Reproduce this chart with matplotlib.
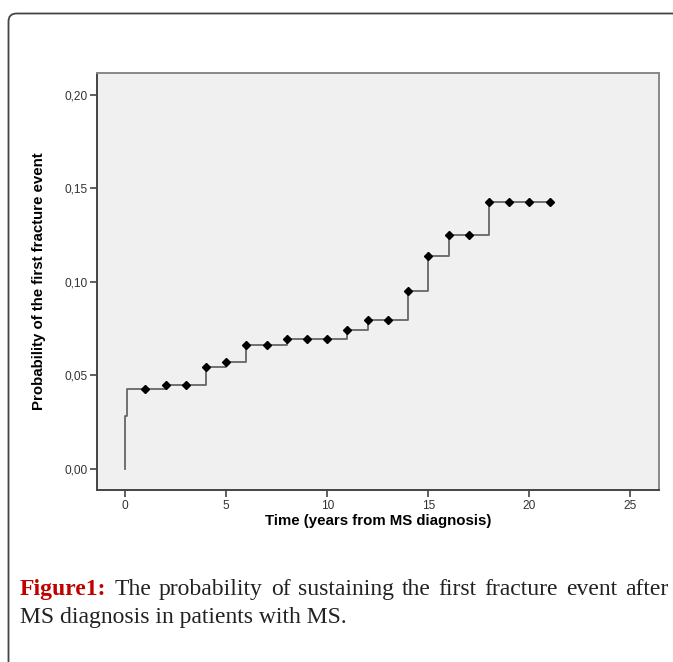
import numpy as np
import matplotlib.pyplot as plt
from matplotlib.patches import FancyBboxPatch
from matplotlib.ticker import MultipleLocator, FuncFormatter

# cumulative probability of first fracture (step function, post)
step_times = [0, 0, 0.1, 2, 4, 5, 6, 8, 11, 12, 14, 15, 16, 18, 21]
step_probs = [0, 0.0283, 0.0427, 0.0449, 0.0547, 0.0573, 0.0661, 0.0694,
              0.0743, 0.0797, 0.0951, 0.1138, 0.1248, 0.1425, 0.1425]
censor_times = [1, 2, 3, 4, 5, 6, 7, 8, 9, 10, 11, 12, 13, 14, 15, 16, 17, 18, 19, 20, 21]

caption_bold = "Figure1:"
caption_line1 = "The probability of sustaining the first fracture event after"
caption_line2 = "MS diagnosis in patients with MS."

W, H = 673, 662
fig = plt.figure(figsize=(W / 100, H / 100), dpi=100)
fig.patch.set_facecolor('white')

# rounded frame around the figure block
frame = FancyBboxPatch((8.5 / W, -0.2), 1.2, 1 - 13.5 / H + 0.2,
                       boxstyle="round,pad=0,rounding_size=0.012",
                       transform=fig.transFigure, fill=False,
                       edgecolor='#444444', linewidth=1.3, clip_on=False)
fig.patches.append(frame)

ax = fig.add_axes([97 / W, 1 - 490 / H, 562 / W, 417 / H])
ax.set_facecolor('#f0f0f0')

ax.step(step_times, step_probs, where='post', color='#666666', linewidth=1.3, zorder=2)
idx = np.searchsorted(step_times, censor_times, side='right') - 1
censor_probs = np.array(step_probs)[idx]
ax.plot(censor_times, censor_probs, linestyle='none', marker='D', markersize=4.4,
        color='black', zorder=3)

ax.set_xlim(-1.4, 26.42)
ax.set_ylim(-0.0112, 0.2115)
ax.xaxis.set_major_locator(MultipleLocator(5))
ax.yaxis.set_major_locator(MultipleLocator(0.05))
ax.yaxis.set_major_formatter(FuncFormatter(lambda v, p: f"{v:.2f}".replace('.', ',')))

for side in ['left', 'bottom']:
    ax.spines[side].set_color('#444444')
    ax.spines[side].set_linewidth(1.4)
for side in ['top', 'right']:
    ax.spines[side].set_color('#888888')
    ax.spines[side].set_linewidth(1.4)

ax.tick_params(direction='out', length=5, width=1.2, color='#444444',
               labelsize=8.6, labelcolor='#333333', pad=2)
for lab in ax.get_xticklabels() + ax.get_yticklabels():
    lab.set_family('Liberation Sans')

ax.set_xlabel('Time (years from MS diagnosis)', fontsize=10.8, fontweight='bold',
              family='Liberation Sans', labelpad=2)
ax.set_ylabel('Probability of the first fracture event', fontsize=10.8, fontweight='bold',
              family='Liberation Sans', labelpad=13)

# caption, first line justified between x=20 and x=668 px
cap_size = 17
renderer = fig.canvas.get_renderer()
words = [(caption_bold, 'bold', '#c00000')] + [(w, 'normal', '#222222') for w in caption_line1.split()]
texts = []
for w, weight, col in words:
    t = fig.text(0, 1 - 595 / H, w, fontsize=cap_size, fontweight=weight,
                 family='Liberation Serif', color=col, va='baseline')
    texts.append(t)
widths = [t.get_window_extent(renderer).width for t in texts]
gap = (668 - 20 - sum(widths)) / (len(texts) - 1)
x = 20
for t, wd in zip(texts, widths):
    t.set_x(x / W)
    x += wd + gap

fig.text(20 / W, 1 - 623 / H, caption_line2, fontsize=cap_size,
         family='Liberation Serif', color='#222222', va='baseline')

fig.savefig('out.png', dpi=100)
plt.close(fig)
